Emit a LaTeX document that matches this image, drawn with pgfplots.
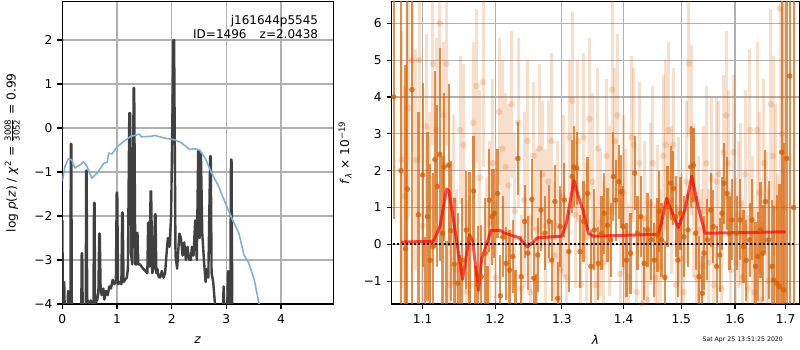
\documentclass[border=0pt]{standalone}
\usepackage{fontspec}
\setmainfont{DejaVu Sans}
\usepackage{amsmath}
\usepackage{pgfplots}
\pgfplotsset{compat=1.18}
\usepackage{pgfplotstable}
\definecolor{dor}{RGB}{217,95,2}
\definecolor{pzc}{RGB}{64,64,64}
\definecolor{chic}{RGB}{124,178,216}
\definecolor{gridc}{RGB}{176,176,176}

\pgfplotstableread{
x y
0.000 -2.10
0.015 -4.5
0.035 -3.5
0.050 -4.5
0.090 -4.5
0.105 -3.7
0.120 -4.5
0.150 -4.2
0.155 -0.36
0.165 -0.36
0.175 -4.5
0.345 -4.5
0.355 -2.85
0.365 -2.85
0.375 -4.5
0.430 -4.3
0.435 -0.97
0.445 -0.97
0.455 -3.9
0.480 -3.95
0.500 -4.0
0.520 -3.92
0.550 -4.0
0.570 -4.1
0.580 -1.70
0.590 -1.70
0.600 -4.0
0.640 -3.9
0.660 -3.75
0.675 -2.40
0.685 -2.40
0.700 -3.6
0.720 -3.8
0.750 -3.65
0.770 -3.9
0.800 -3.7
0.830 -3.8
0.860 -3.6
0.890 -3.65
0.920 -3.45
0.950 -3.55
0.980 -3.5
0.995 -1.47
1.005 -1.47
1.020 -3.55
1.050 -3.5
1.080 -3.55
1.095 -1.92
1.105 -1.92
1.120 -3.5
1.150 -3.45
1.180 -3.4
1.200 -3.2
1.225 0.34
1.240 0.34
1.260 -2.9
1.280 -3.1
1.305 0.91
1.315 0.91
1.335 -3.1
1.360 -3.1
1.375 -2.38
1.390 -3.1
1.420 -3.1
1.450 -3.15
1.480 -3.2
1.520 -3.25
1.555 -3.3
1.570 -2.15
1.580 -2.15
1.595 -3.15
1.615 -1.44
1.625 -1.44
1.645 -3.3
1.670 -3.2
1.695 -1.96
1.705 -1.96
1.720 -3.3
1.740 -3.2
1.760 -3.38
1.790 -3.4
1.820 -3.25
1.850 -3.4
1.880 -3.3
1.910 -2.8
1.930 -2.5
1.960 -2.7
1.990 -2.0
2.032 2.0
2.045 2.0
2.070 -2.9
2.100 -3.2
2.140 -2.4
2.170 -2.5
2.200 -2.9
2.230 -2.6
2.260 -3.0
2.290 -2.7
2.320 -3.0
2.350 -3.0
2.370 -2.7
2.400 -2.9
2.430 -2.1
2.460 -3.0
2.485 -0.52
2.495 -0.52
2.510 -2.5
2.525 -0.58
2.535 -0.58
2.560 -2.4
2.590 -3.0
2.620 -3.5
2.650 -3.2
2.670 -3.4
2.705 -0.64
2.715 -0.64
2.730 -3.3
2.760 -3.5
2.790 -3.97
2.810 -4.5
2.930 -4.5
2.950 -3.6
2.970 -4.5
3.010 -4.5
3.030 -3.25
3.050 -4.5
3.070 -4.5
3.085 -0.72
3.095 -0.72
3.110 -4.5
3.500 -4.5
}\pzdata

\pgfplotstableread{
x y
0.00 -1.21
0.05 -0.87
0.11 -0.70
0.17 -0.72
0.23 -0.91
0.33 -0.83
0.39 -0.77
0.45 -0.87
0.54 -1.14
0.64 -1.02
0.70 -0.91
0.76 -0.80
0.82 -0.78
0.85 -0.57
0.91 -0.59
1.01 -0.42
1.13 -0.30
1.25 -0.19
1.38 -0.15
1.41 -0.14
1.44 -0.20
1.62 -0.19
1.69 -0.17
1.87 -0.23
2.06 -0.27
2.18 -0.34
2.33 -0.49
2.43 -0.47
2.52 -0.51
2.61 -0.68
2.73 -1.02
2.86 -1.33
2.98 -1.70
3.11 -2.08
3.23 -2.39
3.32 -2.88
3.41 -3.07
3.51 -3.45
3.60 -4.00
3.62 -4.20
}\chidata

\pgfplotstableread{
x y e
1.0625 4.00 3.3
1.0718 2.00 9.0
1.0776 -0.12 5.0
1.0800 1.50 8.0
1.0860 4.20 7.0
1.0946 0.80 2.8
1.1000 1.88 2.5
1.1030 -2.00 2.2
1.1065 0.75 2.3
1.1102 -0.43 2.6
1.1135 -0.06 2.0
1.1163 2.30 2.4
1.1195 1.57 2.2
1.1228 2.44 2.9
1.1265 0.30 2.1
1.1288 2.10 2.0
1.1320 -1.80 1.9
1.1349 2.15 2.2
1.1381 0.37 1.9
1.1428 -0.54 1.8
1.1474 -1.06 1.9
1.1500 -1.90 1.6
1.1530 -0.43 1.7
1.1591 0.39 1.6
1.1637 0.16 1.8
1.1693 1.45 1.5
1.1720 -2.10 1.5
1.1753 -1.10 1.6
1.1800 -0.88 1.4
1.1856 -0.24 1.5
1.1890 -1.90 1.3
1.1916 1.20 1.4
1.1953 0.75 1.3
1.1986 0.84 1.2
1.2035 1.38 1.2
1.2074 -1.40 1.1
1.2110 0.20 1.1
1.2158 -0.52 1.0
1.2208 -0.70 1.1
1.2257 -0.33 1.0
1.2295 -1.70 1.0
1.2332 2.33 1.0
1.2381 -0.88 1.1
1.2431 0.62 1.0
1.2480 -0.24 1.0
1.2540 1.22 1.1
1.2569 -0.92 1.0
1.2600 -1.80 1.0
1.2629 -0.29 1.0
1.2678 0.93 1.1
1.2738 0.30 1.0
1.2802 0.62 1.0
1.2842 -0.43 1.1
1.2891 1.16 1.0
1.2936 -1.47 1.0
1.2975 0.48 1.1
1.3038 1.20 1.0
1.3108 -0.20 1.1
1.3162 1.84 1.0
1.3189 2.10 1.1
1.3233 2.06 1.0
1.3287 -0.20 1.0
1.3341 0.62 1.1
1.3406 1.38 1.0
1.3460 -0.60 1.0
1.3514 0.39 1.1
1.3579 -0.52 1.0
1.3633 0.30 1.0
1.3676 0.84 1.1
1.3730 0.52 1.0
1.3784 0.12 1.0
1.3828 1.84 1.2
1.3866 1.20 1.1
1.3920 1.70 1.0
1.3958 1.43 1.0
1.3990 0.48 1.1
1.4046 -0.43 1.0
1.4116 -0.24 1.1
1.4186 1.93 1.0
1.4232 0.30 1.0
1.4291 0.75 1.1
1.4349 -0.52 1.0
1.4407 0.39 1.0
1.4465 0.12 1.1
1.4523 -0.43 1.0
1.4581 0.25 1.0
1.4610 0.89 1.1
1.4651 0.12 1.0
1.4709 -0.90 1.0
1.4755 1.02 1.1
1.4813 1.66 1.0
1.4860 1.52 1.0
1.4901 0.75 1.1
1.4941 -0.43 1.0
1.4988 0.84 1.0
1.5049 0.20 1.1
1.5123 0.39 1.0
1.5172 2.10 1.1
1.5221 2.15 1.0
1.5264 0.30 1.0
1.5325 -0.88 1.1
1.5386 -1.33 1.0
1.5417 -0.24 1.0
1.5478 0.12 1.1
1.5539 0.93 1.0
1.5588 0.48 1.0
1.5650 -0.60 1.1
1.5711 -0.29 1.0
1.5754 0.84 1.0
1.5797 1.66 1.1
1.5846 1.38 1.0
1.5895 0.30 1.0
1.5938 0.66 1.1
1.6033 0.30 1.0
1.6099 0.66 1.1
1.6165 -0.06 1.0
1.6217 -0.43 1.1
1.6283 0.12 1.0
1.6329 0.66 1.1
1.6395 -0.60 1.2
1.6441 -0.33 1.2
1.6494 0.39 1.3
1.6546 -0.24 1.3
1.6592 1.16 1.4
1.6658 0.12 1.6
1.6724 -0.60 1.8
1.6757 -0.97 2.0
1.6823 -1.06 2.4
1.6875 -1.15 2.8
1.6921 2.50 9.0
1.6960 -1.24 4.0
1.7026 2.33 9.0
1.7086 4.57 9.0
1.7165 1.00 9.0
}\darkdata

\pgfplotstableread{
x y e
1.0723 2.3 3.5
1.0769 1.3 3.0
1.0815 3.7 3.0
1.0861 5.0 2.5
1.0907 2.3 3.0
1.0953 5.0 2.8
1.0999 0.5 2.5
1.1045 3.2 2.5
1.1091 1.0 2.6
1.1137 4.9 2.2
1.1183 3.1 2.5
1.1229 6.0 2.4
1.1275 3.5 2.0
1.1321 4.9 2.2
1.1367 -1.1 2.5
1.1413 1.2 2.3
1.1459 -0.7 2.2
1.1505 3.1 2.0
1.1551 2.7 2.2
1.1597 -1.3 2.5
1.1643 -1.1 2.4
1.1689 3.3 2.2
1.1735 4.3 2.1
1.1781 1.8 2.4
1.1827 4.4 2.3
1.1873 -0.2 2.0
1.1919 0.6 2.2
1.1965 2.2 2.3
1.2011 -0.9 2.1
1.2057 3.6 2.0
1.2103 2.6 2.4
1.2149 2.1 2.0
1.2195 1.6 2.2
1.2241 3.8 2.0
1.2287 0.9 2.1
1.2333 3.3 2.3
1.2379 -1.2 2.0
1.2425 1.2 2.4
1.2471 2.8 2.2
1.2517 -1.3 2.1
1.2563 2.4 2.0
1.2609 0.4 2.2
1.2655 2.6 2.3
1.2701 1.9 2.0
1.2747 0.5 2.1
1.2793 1.7 2.2
1.2839 2.8 2.4
1.2885 -0.3 2.0
1.2931 0.5 2.3
1.2977 -0.7 2.1
1.3023 1.3 2.2
1.3069 -0.9 2.0
1.3115 2.9 2.1
1.3161 3.9 2.4
1.3207 0.8 2.0
1.3253 2.8 2.2
1.3299 -1.1 2.1
1.3345 2.9 2.3
1.3391 0.2 2.0
1.3437 3.4 2.2
1.3483 1.7 2.4
1.3529 -1.1 2.1
1.3575 2.6 2.2
1.3621 0.6 2.0
1.3667 -0.5 2.2
1.3713 2.4 2.1
1.3759 0.9 2.3
1.3805 4.2 2.4
1.3851 2.8 2.0
1.3897 3.5 2.2
1.3943 -0.8 2.0
1.3989 1.4 2.1
1.4035 0.3 2.3
1.4081 -0.9 2.0
1.4127 2.9 2.2
1.4173 2.7 2.1
1.4219 -1.3 2.0
1.4265 2.2 2.2
1.4311 -1.6 2.3
1.4357 0.7 2.1
1.4403 -1.5 2.0
1.4449 1.1 2.2
1.4495 2.2 2.1
1.4541 -0.9 2.0
1.4587 0.4 2.3
1.4633 -0.6 2.1
1.4679 2.4 2.2
1.4725 2.7 2.3
1.4771 3.1 2.4
1.4817 1.2 2.0
1.4863 2.7 2.1
1.4909 -1.1 2.2
1.4955 0.9 2.0
1.5001 -0.4 2.3
1.5047 -1.3 2.1
1.5093 1.7 2.2
1.5139 4.9 2.0
1.5185 3.1 2.3
1.5231 1.2 2.1
1.5277 -0.9 2.2
1.5323 0.4 2.0
1.5369 -0.6 2.1
1.5415 0.9 2.3
1.5461 2.2 2.1
1.5507 -0.5 2.0
1.5553 1.8 2.2
1.5599 -1.1 2.1
1.5645 1.7 2.3
1.5691 1.9 2.0
1.5737 -1.2 2.2
1.5783 2.5 2.1
1.5829 3.5 2.3
1.5875 2.2 2.0
1.5921 -0.7 2.2
1.5967 2.5 2.1
1.6013 -0.5 2.3
1.6059 0.8 2.0
1.6105 1.1 2.2
1.6151 -0.9 2.1
1.6197 1.9 2.3
1.6243 -1.2 2.0
1.6289 3.1 2.2
1.6335 0.3 2.1
1.6381 -1.3 2.3
1.6427 3.1 2.4
1.6473 1.4 2.2
1.6519 -1.5 2.1
1.6565 2.2 2.3
1.6611 0.1 2.4
1.6657 -1.0 2.5
1.6703 3.8 2.6
1.6749 2.4 2.7
1.6795 1.0 2.8
1.6841 -1.1 3.0
1.6887 6.4 6.0
1.6933 3.0 6.0
1.6979 1.0 6.0
}\lightdata

\pgfplotstableread{
x y
1.0718 0.06
1.1142 0.08
1.1231 0.48
1.1321 1.50
1.1353 1.45
1.1435 0.40
1.1540 -0.95
1.1637 0.25
1.1680 0.10
1.1762 -1.25
1.1806 -0.40
1.1878 0.00
1.1940 0.38
1.2069 0.38
1.2126 0.31
1.2349 0.18
1.2475 -0.07
1.2629 0.18
1.2998 0.22
1.3074 0.60
1.3189 1.74
1.3258 1.30
1.3338 0.90
1.3418 0.30
1.3499 0.22
1.4593 0.27
1.4650 0.60
1.4739 1.25
1.4828 0.90
1.4949 0.45
1.5069 0.95
1.5190 1.85
1.5312 1.00
1.5435 0.30
1.7000 0.34
}\modeldata

\pgfplotsset{
  mybase/.style={
    scale only axis,
    anchor=south west,
    axis line style={line width=1.1pt, black},
    tick align=outside,
    xtick pos=left, ytick pos=left,
    major tick length=4.9pt,
    every tick/.style={black, line width=1.1pt},
    grid=major,
    major grid style={gridc, line width=1.1pt},
    tick label style={font=\fontsize{12.2}{14}\selectfont},
    label style={font=\fontsize{12.2}{14}\selectfont},
    xticklabel style={inner sep=0pt, anchor=north, yshift=-5.2pt},
    yticklabel style={inner sep=0pt, anchor=east, xshift=-4.9pt},
    axis on top=false,
  }
}

\begin{document}
\begin{tikzpicture}
\begin{axis}[mybase,
  at={(62.3pt,46pt)}, width=271pt, height=302.3pt,
  xmin=0, xmax=4.956, ymin=-4, ymax=2.87,
  xtick={0,1,2,3,4}, xticklabels={0,1,2,3,4},
  ytick={-4,-3,-2,-1,0,1,2}, yticklabels={−4,−3,−2,−1,0,1,2},
  xlabel={\textit{z}},
  xlabel style={at={(axis description cs:0.5,-0.119)}, anchor=center},
  ylabel={log \textit{p}(\textit{z}) / \textit{χ}\textsuperscript{2} = $\frac{\text{3008}}{\text{3052}}$ = 0.99},
  ylabel style={at={(axis description cs:-0.185,0.5)}, anchor=center},
]
\addplot[pzc, line width=2.4pt, line join=round, line cap=round] table[x=x,y=y] {\pzdata};
\addplot[chic, line width=1.6pt, line join=round] table[x=x,y=y] {\chidata};
\node[anchor=base east, font=\fontsize{12}{14}\selectfont, inner sep=0pt] at (axis description cs:0.9446,0.924) {j161644p5545};
\node[anchor=base east, font=\fontsize{12}{14}\selectfont, inner sep=0pt] at (axis description cs:0.9446,0.878) {ID=1496\hspace{1.1em}z=2.0438};
\end{axis}

\begin{axis}[mybase,
  at={(391.7pt,46pt)}, width=407.6pt, height=302.3pt,
  xmode=log, log basis x=10,
  xmin=1.0600, xmax=1.7282, ymin=-1.621, ymax=6.587,
  xtick={1.1,1.2,1.3,1.4,1.5,1.6,1.7},
  xticklabels={1.1,1.2,1.3,1.4,1.5,1.6,1.7},
  minor xtick={},
  ytick={-1,0,1,2,3,4,5,6}, yticklabels={−1,0,1,2,3,4,5,6},
  xlabel={\textit{λ}},
  xlabel style={at={(axis description cs:0.5,-0.119)}, anchor=center},
  ylabel={\textit{f}\textsubscript{\textit{λ}} × 10\textsuperscript{−19}},
  ylabel style={at={(axis description cs:-0.1146,0.5)}, anchor=center},
]
\addplot[color=dor, only marks, mark=*, mark size=3.3pt,
  mark options={draw opacity=0, fill=dor, fill opacity=0.22},
  error bars/.cd, y dir=both, y explicit, error mark=none,
  error bar style={dor, line width=3pt, draw opacity=0.2}]
  table[x=x,y=y,y error=e] {\lightdata};
\addplot[color=dor, only marks, mark=*, mark size=2.8pt,
  mark options={draw opacity=0, fill=dor, fill opacity=0.8},
  error bars/.cd, y dir=both, y explicit, error mark=none,
  error bar style={dor, line width=2.2pt, draw opacity=0.7}]
  table[x=x,y=y,y error=e] {\darkdata};
\addplot[red, line width=3pt, opacity=0.7, line join=round] table[x=x,y=y] {\modeldata};
\addplot[black, line width=2pt, dash pattern=on 2pt off 2.2pt] coordinates {(1.062,0) (1.719,0)};
\end{axis}

\node[font=\fontsize{6.2}{7}\selectfont, anchor=center] at (742.7pt,10.5pt) {Sat Apr 25 13:51:25 2020};
\pgfresetboundingbox
\path[use as bounding box] (0,0) rectangle (800pt,350pt);
\end{tikzpicture}
\end{document}
